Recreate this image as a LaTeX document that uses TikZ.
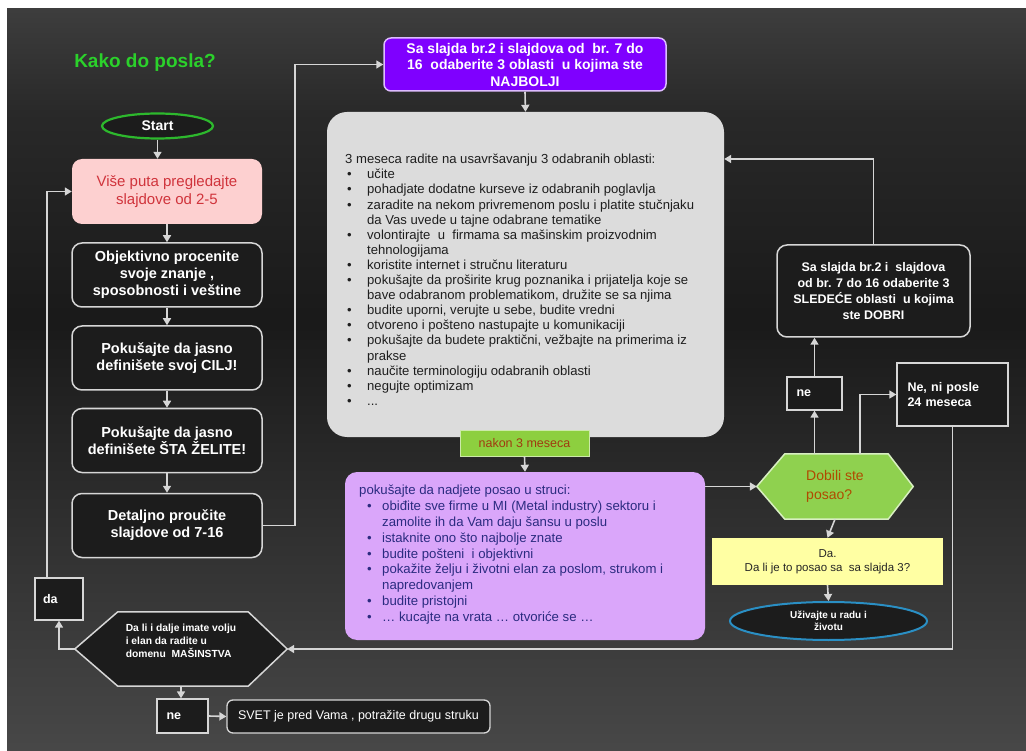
\documentclass[tikz,border=0pt]{standalone}
\usepackage{fontspec}
\setmainfont{Liberation Sans}
\usetikzlibrary{arrows.meta,shapes.geometric,calc,backgrounds}
\definecolor{ln}{HTML}{D6D6D6}
\definecolor{boxfill}{HTML}{1C1C1C}
\definecolor{titlegreen}{HTML}{2BD12B}
\definecolor{startgreen}{HTML}{2DB82D}
\definecolor{pinkfill}{HTML}{FDD0D0}
\definecolor{pinktext}{HTML}{D0343C}
\definecolor{purplefill}{HTML}{7F00FF}
\definecolor{purpleline}{HTML}{DDBBFF}
\definecolor{greyfill}{HTML}{DCDCDC}
\definecolor{greytext}{HTML}{1E1E1E}
\definecolor{lavfill}{HTML}{DAA6FA}
\definecolor{lavtext}{HTML}{2B2B80}
\definecolor{hexgreen}{HTML}{8FD14F}
\definecolor{hextext}{HTML}{B04A00}
\definecolor{nakonfill}{HTML}{8DCF3F}
\definecolor{nakontext}{HTML}{A03A10}
\definecolor{yelfill}{HTML}{FFFFA3}
\definecolor{blueline}{HTML}{2A8FC4}
\pgfdeclareverticalshading{bgshade}{100bp}{%
  color(0bp)=(black!72); color(25bp)=(black!72);
  color(54bp)=(black!90); color(68bp)=(black!84);
  color(75bp)=(black!76); color(100bp)=(black!76)}
\newcommand\fsz[2]{\fontsize{#1}{#2}\selectfont}
\newcommand\gb[1]{\makebox[22pt][l]{\hspace*{2pt}•}#1}
\newcommand\gc[1]{\hspace*{22pt}#1}
\newcommand\lbul[1]{\makebox[23pt][l]{\hspace*{8pt}•}#1}
\newcommand\lcn[1]{\hspace*{23pt}#1}
\tikzset{
 conn/.style={draw=ln, line width=1.6pt, -{Triangle[length=7pt,width=8pt]}},
 darkbox/.style={draw=ln, line width=1.5pt, fill=boxfill, rounded corners=10pt, text=white, font=\bfseries\fsz{14.5}{17}, align=center, inner sep=0pt},
 sqbox/.style={draw=ln, line width=1.3pt, fill=boxfill, text=white, font=\bfseries\fsz{12.5}{14}, inner sep=0pt},
 hexline/.style={line width=1.5pt},
}
\begin{document}
\begin{tikzpicture}[x=1pt,y=-1pt]
\useasboundingbox (0,0) rectangle (1026,751);
\begin{pgfonlayer}{background}
\fill[white] (0,0) rectangle (1026,751);
\shade[shading=bgshade] (7,9) rectangle (1026,751);
\end{pgfonlayer}

% title and start
\node[font=\bfseries\fsz{19}{22}, text=titlegreen] (title) at (145,63) {Kako do posla?};
\node[ellipse, draw=startgreen, line width=2.2pt, fill=boxfill, minimum width=111pt, minimum height=25pt, inner sep=0pt, text=white, font=\bfseries\fsz{14}{16}] (start) at (157.5,126) {Start};

% left column
\node[rounded corners=10pt, fill=pinkfill, minimum width=190pt, minimum height=65pt, inner sep=0pt, text=pinktext, font=\fsz{15}{18}, align=center] (pink) at (167,191.5) {Više puta pregledajte\\slajdove od 2-5};
\node[darkbox, minimum width=190pt, minimum height=64pt] (obj) at (167,275) {Objektivno procenite\\svoje znanje ,\\sposobnosti i veštine};
\node[darkbox, minimum width=190pt, minimum height=64pt] (cilj) at (167,358) {Pokušajte da jasno\\definišete svoj CILJ!};
\node[darkbox, minimum width=190pt, minimum height=64pt] (sta) at (167,440.5) {Pokušajte da jasno\\definišete ŠTA ŽELITE!};
\node[darkbox, minimum width=190pt, minimum height=64pt] (det) at (167,525.5) {Detaljno proučite\\slajdove od 7-16};

% purple box
\node[fill=purplefill, draw=purpleline, line width=1.5pt, rounded corners=7pt, minimum width=282pt, minimum height=53pt, inner sep=0pt, text=white, font=\bfseries\fsz{14}{16.5}, align=center] (purp) at (525,64.5) {Sa slajda br.2 i slajdova od~ br. 7 do\\16~ odaberite 3 oblasti~ u kojima ste\\NAJBOLJI};

% grey box
\node[fill=greyfill, rounded corners=20pt, minimum width=397pt, minimum height=325pt] (grey) at (525.5,274.5) {};
\node[anchor=north west, inner sep=0pt, align=left, text=greytext, font=\fsz{13.1}{15.1}] (greytxt) at (345,154) {%
3 meseca radite na usavršavanju 3 odabranih oblasti:\\
\gb{učite}\\
\gb{pohadjate dodatne kurseve iz odabranih poglavlja}\\
\gb{zaradite na nekom privremenom poslu i platite stučnjaku}\\
\gc{da Vas uvede u tajne odabrane tematike}\\
\gb{volontirajte~ u~ firmama sa mašinskim proizvodnim}\\
\gc{tehnologijama}\\
\gb{koristite internet i stručnu literaturu}\\
\gb{pokušajte da proširite krug poznanika i prijatelja koje se}\\
\gc{bave odabranom problematikom, družite se sa njima}\\
\gb{budite uporni, verujte u sebe, budite vredni}\\
\gb{otvoreno i pošteno nastupajte u komunikaciji}\\
\gb{pokušajte da budete praktični, vežbajte na primerima iz}\\
\gc{prakse}\\
\gb{naučite terminologiju odabranih oblasti}\\
\gb{negujte optimizam}\\
\gb{...}};

\node[fill=nakonfill, draw=white!55!nakonfill, line width=1pt, minimum width=129pt, minimum height=26pt, inner sep=0pt, text=nakontext, font=\fsz{12.5}{14}] (nakon) at (524.5,443) {nakon 3 meseca};

% lavender box
\node[fill=lavfill, rounded corners=12pt, minimum width=360pt, minimum height=168pt] (lav) at (525,556) {};
\node[anchor=north west, inner sep=0pt, align=left, text=lavtext, font=\fsz{13.2}{15.8}] (lavtxt) at (359,485) {%
pokušajte da nadjete posao u struci:\\
\lbul{obiđite sve firme u MI (Metal industry) sektoru i}\\
\lcn{zamolite ih da Vam daju šansu u poslu}\\
\lbul{istaknite ono što najbolje znate}\\
\lbul{budite pošteni~ i objektivni}\\
\lbul{pokažite želju i životni elan za poslom, strukom i}\\
\lcn{napredovanjem}\\
\lbul{budite pristojni}\\
\lbul{… kucajte na vrata … otvoriće se …}};

% right side
\node[minimum width=156pt, minimum height=65pt, inner sep=0pt, align=left, text=hextext, font=\fsz{14}{19}] (dob) at (835,486.5) {Dobili ste\\posao?};
\begin{pgfonlayer}{background}
\draw[hexline, draw=white!65!hexgreen, fill=hexgreen] (dob.west) -- ([xshift=28pt]dob.north west) -- ([xshift=-25pt]dob.north east) -- (dob.east) -- ([xshift=-25pt]dob.south east) -- ([xshift=28pt]dob.south west) -- cycle;
\end{pgfonlayer}
\node[sqbox, minimum width=55pt, minimum height=33pt, text width=36pt, align=left] (ne1) at (814.5,393.5) {ne};
\node[darkbox, font=\bfseries\fsz{12.5}{15.7}, minimum width=193pt, minimum height=92pt] (sled) at (873.5,291) {Sa slajda br.2 i~ slajdova\\od br. 7 do 16 odaberite 3\\SLEDEĆE oblasti~ u kojima\\ste DOBRI};
\node[sqbox, minimum width=111pt, minimum height=63pt, text width=90pt, align=left, font=\bfseries\fsz{12.5}{14.5}] (nips) at (952.5,394.5) {Ne, ni posle\\24 meseca};
\node[fill=yelfill, minimum width=231pt, minimum height=47pt, inner sep=0pt, text=black!85, font=\fsz{11.5}{14}, align=center] (yel) at (827.5,561.5) {Da.\\Da li je to posao sa~ sa slajda 3?};
\node[ellipse, draw=blueline, line width=2pt, fill=boxfill, minimum width=197pt, minimum height=38pt, inner sep=0pt, text=white, font=\bfseries\fsz{10}{12}, align=center] (uz) at (828.5,621) {Uživajte u radu i\\životu};

% bottom left
\node[minimum width=212pt, minimum height=74pt, inner sep=0pt, align=left, text=white, font=\bfseries\fsz{10.3}{13}, text depth=17pt] (hexb) at (181,649) {Da li i dalje imate volju\\i elan da radite u\\domenu~ MAŠINSTVA};
\begin{pgfonlayer}{background}
\draw[hexline, draw=ln, fill=boxfill] (hexb.west) -- ([xshift=43pt]hexb.north west) -- ([xshift=-39pt]hexb.north east) -- (hexb.east) -- ([xshift=-39pt]hexb.south east) -- ([xshift=43pt]hexb.south west) -- cycle;
\end{pgfonlayer}
\node[sqbox, minimum width=48pt, minimum height=42pt, text width=32pt, align=left] (da) at (59,599) {da};
\node[sqbox, minimum width=51pt, minimum height=34pt, text width=32pt, align=left] (ne2) at (182.5,716) {ne};
\node[draw=ln, line width=1.3pt, rounded corners=6pt, fill=boxfill, minimum width=263pt, minimum height=33pt, inner sep=0pt, text=white, font=\fsz{12.5}{14}] (svet) at (358.5,716.5) {SVET je pred Vama , potražite drugu struku};

% connectors
\draw[conn] (start.south) -- (start.south |- pink.north);
\draw[conn] (pink.south) -- (obj.north);
\draw[conn] (obj.south) -- (cilj.north);
\draw[conn] (cilj.south) -- (sta.north);
\draw[conn] (sta.south) -- (det.north);
\draw[conn] (det.east) -- ++(32,0) |- (purp.west);
\draw[conn] (purp.south) -- (grey.north);
\draw[conn] (nakon.south) -- (lav.north);
\draw[conn] (lav.east |- dob.west) -- (dob.west);
\draw[conn] (dob.north -| ne1.south) -- (ne1.south);
\draw[conn] (ne1.north) -- (ne1.north |- sled.south);
\draw[conn] (sled.north) |- ($(grey.north east)!0.145!(grey.south east)$);
\draw[conn] ([xshift=25pt]dob.north) |- (nips.west);
\draw[conn] (nips.south) |- (hexb.east);
\draw[conn] (dob.south) -- (yel.north);
\draw[conn] (yel.south) -- (uz.north);
\draw[conn] (hexb.west) -| (da.south);
\draw[conn] ([xshift=-12pt]da.north) |- (pink.west);
\draw[conn] (hexb.south) -- (hexb.south |- ne2.north);
\draw[conn] (ne2.east) -- (svet.west);
\end{tikzpicture}
\end{document}
